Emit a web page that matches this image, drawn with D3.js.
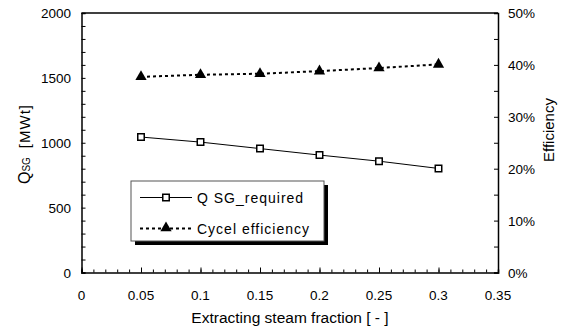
<!DOCTYPE html>
<html><head><meta charset="utf-8">
<script src="https://cdn.jsdelivr.net/npm/d3@7"></script>
<style>body{margin:0;background:#fff}text{font-family:"Liberation Sans",Arial,sans-serif;fill:#000}</style>
</head><body><svg id="c" width="567" height="327"></svg>
<script>
const fractions = [0.05, 0.10, 0.15, 0.20, 0.25, 0.30];
const qSG = [1044, 1005, 955, 905, 858, 802];
const efficiency = [0.377, 0.381, 0.383, 0.388, 0.394, 0.401];
const xTicks = [0, 0.05, 0.1, 0.15, 0.2, 0.25, 0.3, 0.35];
const xTickLabels = ["0","0.05","0.1","0.15","0.2","0.25","0.3","0.35"];
const yLeftTicks = [0, 500, 1000, 1500, 2000];
const yRightTicks = [0, 0.1, 0.2, 0.3, 0.4, 0.5];
const seriesNames = ["Q SG_required", "Cycel efficiency"];

const svg = d3.select("#c");
const L = 81.5, R = 498, T = 13, B = 272.5;
const x = d3.scaleLinear().domain([0, 0.35]).range([L, R]);
const yL = d3.scaleLinear().domain([0, 2000]).range([B, T]);
const yR = d3.scaleLinear().domain([0, 0.5]).range([B, T]);

const g = svg.append("g");
g.append("line").attr("x1", L).attr("x2", R).attr("y1", T).attr("y2", T).attr("stroke", "#000").attr("stroke-width", 1.5);

const axL = d3.axisRight(yL).tickValues(d3.range(0, 2001, 100)).tickSize(4).tickFormat("");
g.append("g").attr("transform", `translate(${L},0)`).call(axL).call(s => { s.select(".domain").attr("stroke-width", 1.5); s.selectAll(".tick line").attr("stroke-width", 1); });
const axR = d3.axisLeft(yR).tickValues(d3.range(0, 0.501, 0.05)).tickSize(4).tickFormat("");
g.append("g").attr("transform", `translate(${R},0)`).call(axR).call(s => { s.select(".domain").attr("stroke-width", 1.5); s.selectAll(".tick line").attr("stroke-width", 1); });
const axBminor = d3.axisTop(x).tickValues(d3.range(0, 0.3501, 0.01)).tickSize(3).tickFormat("");
g.append("g").attr("transform", `translate(0,${B})`).call(axBminor).call(s => { s.select(".domain").attr("stroke-width", 1.5); s.selectAll(".tick line").attr("stroke-width", 1); });
const axBmajor = d3.axisTop(x).tickValues(xTicks).tickSize(5).tickFormat("");
g.append("g").attr("transform", `translate(0,${B})`).call(axBmajor).call(s => { s.select(".domain").remove(); s.selectAll(".tick line").attr("stroke-width", 1); });

const fs = 13.5;
g.selectAll(".xl").data(xTicks).enter().append("text").attr("x", d => x(d)).attr("y", 300)
  .attr("text-anchor", "middle").attr("font-size", fs).text((d, i) => xTickLabels[i]);
g.selectAll(".yl").data(yLeftTicks).enter().append("text").attr("x", 71).attr("y", d => yL(d) + 5)
  .attr("text-anchor", "end").attr("font-size", fs).text(d => d);
g.selectAll(".yr").data(yRightTicks).enter().append("text").attr("x", 508).attr("y", d => yR(d) + 5)
  .attr("text-anchor", "start").attr("font-size", fs).text(d => d3.format(".0%")(d));

g.append("text").attr("x", 290).attr("y", 323).attr("text-anchor", "middle").attr("font-size", 15.5).text("Extracting steam fraction  [ - ]");
g.append("text").attr("transform", "translate(554,130) rotate(-90)").attr("text-anchor", "middle").attr("font-size", 15).text("Efficiency");
const lt = g.append("text").attr("transform", "translate(30,144) rotate(-90)").attr("text-anchor", "middle").attr("font-size", 15);
lt.append("tspan").attr("font-size", 16).text("Q");
lt.append("tspan").attr("font-size", 10).text("SG");
lt.append("tspan").attr("dx", 9).attr("letter-spacing", 1).text("[MWt]");

const lineQ = d3.line().x((d, i) => x(fractions[i])).y(d => yL(d));
const lineE = d3.line().x((d, i) => x(fractions[i])).y(d => yR(d));
g.append("path").attr("d", lineQ(qSG)).attr("fill", "none").attr("stroke", "#000").attr("stroke-width", 1);
g.append("path").attr("d", lineE(efficiency)).attr("fill", "none").attr("stroke", "#000").attr("stroke-width", 2).attr("stroke-dasharray", "3,3");
const sq = d3.symbol().type(d3.symbolSquare).size(42);
const tri = d3.symbol().type(d3.symbolTriangle).size(55);
g.selectAll(".sq").data(qSG).enter().append("path").attr("d", sq)
  .attr("transform", (d, i) => `translate(${x(fractions[i])},${yL(d)})`).attr("fill", "#fff").attr("stroke", "#000").attr("stroke-width", 1.5);
g.selectAll(".tr").data(efficiency).enter().append("path").attr("d", tri)
  .attr("transform", (d, i) => `translate(${x(fractions[i])},${yR(d)})`).attr("fill", "#000");

const lg = svg.append("g");
lg.append("rect").attr("x", 135).attr("y", 185).attr("width", 193).attr("height", 60).attr("fill", "#000");
lg.append("rect").attr("x", 131).attr("y", 181).attr("width", 193).attr("height", 60).attr("fill", "#fff").attr("stroke", "#555").attr("stroke-width", 1);
lg.append("line").attr("x1", 140).attr("x2", 192).attr("y1", 197.5).attr("y2", 197.5).attr("stroke", "#000").attr("stroke-width", 1);
lg.append("path").attr("d", sq).attr("transform", "translate(166,197.5)").attr("fill", "#fff").attr("stroke", "#000").attr("stroke-width", 1.5);
lg.append("line").attr("x1", 140).attr("x2", 192).attr("y1", 228.5).attr("y2", 228.5).attr("stroke", "#000").attr("stroke-width", 2).attr("stroke-dasharray", "3,3");
lg.append("path").attr("d", tri).attr("transform", "translate(166,228)").attr("fill", "#000");
lg.selectAll(".lt").data(seriesNames).enter().append("text").attr("x", 197).attr("y", (d, i) => 203 + i * 31)
  .attr("font-size", 14).attr("letter-spacing", 1).text(d => d);
</script></body></html>
